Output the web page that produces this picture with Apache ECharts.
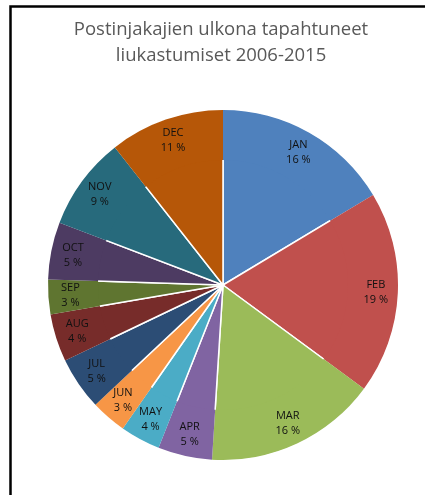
<!DOCTYPE html>
<html lang="fi">
<head>
    <meta charset="UTF-8">
    <title>Liukastumiset</title>
    <script src="https://cdn.jsdelivr.net/npm/echarts@6/dist/echarts.min.js"></script>
    <style>
        html, body { margin: 0; padding: 0; background: #fff; }
    </style>
</head>
<body>
<div id="pie" style="width: 425px;height: 495px;"></div>
<script>
    var months = ['JAN','FEB','MAR','APR','MAY','JUN','JUL','AUG','SEP','OCT','NOV','DEC'];
    var shares = [16.4, 18.7, 15.9, 5.0, 3.7, 3.3, 4.9, 4.4, 3.2, 5.3, 8.6, 10.6];
    var colors = ['#4F81BD','#C0504D','#9BBB59','#8064A2','#4BACC6','#F79646',
                  '#2C4D75','#772C2A','#5F7530','#4D3B62','#276A7C','#B65708'];

    var pieData = [];
    for (var i = 0; i < months.length; i++) {
        pieData.push({ name: months[i], value: shares[i], itemStyle: { color: colors[i] } });
    }

    var myChart = echarts.init(document.getElementById('pie'));
    var option = {
        backgroundColor: '#fff',
        animation: false,
        title: {
            text: 'Postinjakajien ulkona tapahtuneet\nliukastumiset 2006-2015',
            left: 216,
            textAlign: 'center',
            top: 12,
            textStyle: {
                color: '#595959',
                fontFamily: 'Open Sans',
                fontWeight: 'normal',
                fontSize: 18.5,
                lineHeight: 26
            }
        },
        graphic: [{
            type: 'rect',
            shape: { x: 10.5, y: 6.5, width: 600, height: 600 },
            style: { fill: 'none', stroke: '#000', lineWidth: 2.5 }
        }],
        series: [{
            // varsinainen piirakka
            type: 'pie',
            center: [223, 285],
            radius: [0, 175],
            startAngle: 90,
            clockwise: true,
            data: pieData,
            label: { show: false },
            labelLine: { show: false },
            itemStyle: { borderColor: '#fff', borderWidth: 1.5 }
        }, {
            // läpinäkyvä rengas vain tekstejä varten
            type: 'pie',
            center: [223, 285],
            radius: [125, 175],
            startAngle: 90,
            clockwise: true,
            silent: true,
            data: pieData,
            itemStyle: { color: 'rgba(0,0,0,0)', borderWidth: 0 },
            label: {
                show: true,
                position: 'inside',
                color: '#111',
                fontFamily: 'Open Sans',
                fontSize: 11,
                lineHeight: 15,
                formatter: function (p) {
                    return p.name + '\n' + Math.round(p.percent) + ' %';
                }
            },
            labelLine: { show: false }
        }]
    };
    myChart.setOption(option);
</script>
</body>
</html>
